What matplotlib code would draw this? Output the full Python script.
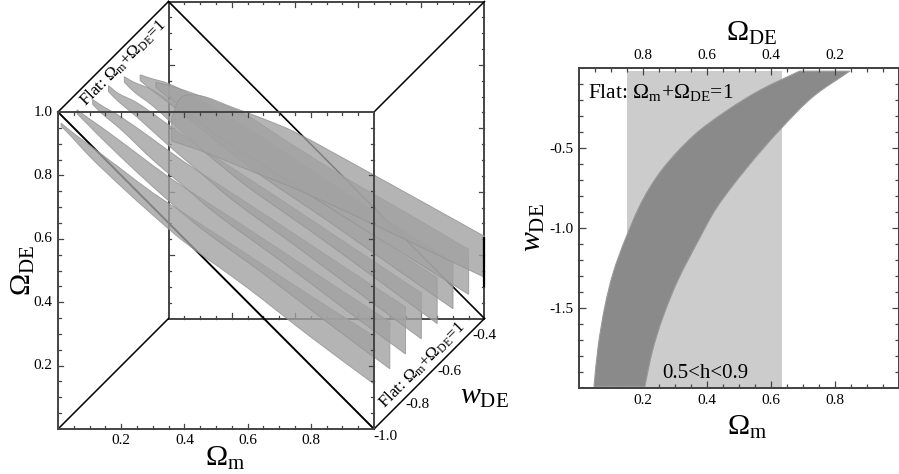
import numpy as np
import matplotlib
matplotlib.use('Agg')
import matplotlib.pyplot as plt
from matplotlib.path import Path
from matplotlib.patches import PathPatch

plt.rcParams['font.family'] = ['Liberation Serif', 'DejaVu Serif']
plt.rcParams['mathtext.fontset'] = 'custom'
plt.rcParams['mathtext.rm'] = 'Liberation Serif'
plt.rcParams['mathtext.it'] = 'Liberation Serif:italic'
plt.rcParams['mathtext.bf'] = 'Liberation Serif:bold'

# Left panel: one (Omega_m, Omega_DE) band per value of w_DE
w_sheets = [-1.0, -0.914, -0.829, -0.743, -0.657, -0.571, -0.486, -0.4]
om_grid = [0.01, 0.04, 0.1, 0.2, 0.3, 0.4, 0.6, 0.8, 1.0]
de_upper = [
    [0.965, 0.94, 0.895, 0.82, 0.745, 0.68, 0.55, 0.42, 0.293],
    [0.957, 0.935, 0.893, 0.819, 0.745, 0.68, 0.55, 0.418, 0.288],
    [0.94, 0.92, 0.885, 0.815, 0.743, 0.678, 0.548, 0.416, 0.286],
    [0.934, 0.91, 0.88, 0.81, 0.74, 0.675, 0.545, 0.412, 0.28],
    [0.912, 0.895, 0.87, 0.805, 0.735, 0.672, 0.54, 0.408, 0.278],
    [0.868, 0.858, 0.84, 0.79, 0.73, 0.668, 0.535, 0.405, 0.276],
    [0.795, 0.788, 0.77, 0.733, 0.69, 0.625, 0.50, 0.385, 0.268],
    [0.63, 0.697, 0.703, 0.667, 0.63, 0.588, 0.48, 0.37, 0.259],
]
de_lower = [
    [0.955, 0.925, 0.86, 0.765, 0.675, 0.59, 0.445, 0.29, 0.142],
    [0.945, 0.915, 0.855, 0.76, 0.67, 0.585, 0.44, 0.288, 0.14],
    [0.925, 0.895, 0.845, 0.75, 0.665, 0.58, 0.435, 0.285, 0.137],
    [0.915, 0.885, 0.835, 0.745, 0.66, 0.575, 0.43, 0.282, 0.135],
    [0.895, 0.865, 0.82, 0.73, 0.645, 0.565, 0.425, 0.28, 0.133],
    [0.85, 0.825, 0.78, 0.70, 0.62, 0.545, 0.41, 0.27, 0.13],
    [0.78, 0.755, 0.71, 0.63, 0.565, 0.50, 0.375, 0.25, 0.126],
    [0.56, 0.55, 0.53, 0.49, 0.45, 0.41, 0.32, 0.225, 0.13],
]
box_ticks = [0.2, 0.4, 0.6, 0.8]
w_ticks = [-1.0, -0.8, -0.6, -0.4]

# Right panel: allowed region in the flat case
w_left = [-0.02, -0.14, -0.27, -0.42, -0.63, -0.83, -1.07, -1.28, -1.49, -1.74, -1.99]
om_left = [0.69, 0.565, 0.46, 0.36, 0.262, 0.198, 0.145, 0.107, 0.081, 0.06, 0.047]
w_right = [-0.02, -0.18, -0.375, -0.62, -0.87, -1.07, -1.325, -1.556, -1.76, -1.99]
om_right = [0.847, 0.732, 0.634, 0.527, 0.432, 0.376, 0.31, 0.263, 0.231, 0.206]
om_band = [0.15, 0.634]
w_band = [-2.0, -0.02]

W, H = 899.0, 474.0
frame = '#444444'
fs_tick = 11
fs_label = 21.5
fig = plt.figure(figsize=(8.99, 4.74), dpi=100)

def smooth(x, y, ratio=1.0):
    # bezier segments through the read points, handles scaled by chord length
    p = np.column_stack([x, y * ratio])
    d = np.diff(p, axis=0)
    chord = np.hypot(d[:, 0], d[:, 1])
    t = np.zeros_like(p)
    t[1:-1] = p[2:] - p[:-2]
    t[0], t[-1] = d[0], d[-1]
    t = t / np.hypot(t[:, 0], t[:, 1])[:, None]
    verts, codes = [], []
    for i in range(len(p) - 1):
        verts += [p[i] + t[i] * chord[i] / 3, p[i + 1] - t[i + 1] * chord[i] / 3, p[i + 1]]
        codes += [Path.CURVE4] * 3
    verts = [v / [1, ratio] for v in verts]
    return p[0] / [1, ratio], verts, codes

def band_path(x1, y1, x2, y2, ratio=1.0):
    # closed outline: first edge forward, second edge back
    start, v1, c1 = smooth(x1, y1, ratio)
    mid, v2, c2 = smooth(x2[::-1], y2[::-1], ratio)
    verts = [start] + v1 + [mid] + v2 + [start]
    codes = [Path.MOVETO] + c1 + [Path.LINETO] + c2 + [Path.CLOSEPOLY]
    return Path(verts, codes)

# left panel, axes box = the front face of the cube
ax = fig.add_axes([58 / W, (H - 429) / H, 316 / W, 317 / H])
ax.set_xlim(0, 1)
ax.set_ylim(0, 1)
ax.axis('off')

def proj(om, de, w):
    # oblique projection of the w_DE axis
    dw = (np.asarray(w, dtype=float) + 1.0) / 0.6
    return np.asarray(om, dtype=float) + dw * 110.5 / 316, np.asarray(de, dtype=float) + dw * 110.5 / 317

def line3d(om, de, w, **kw):
    x, y = proj(om, de, w)
    ax.plot(x, y, clip_on=False, solid_capstyle='projecting', **kw)

def square(w, z):
    line3d([0, 1, 1, 0, 0], [0, 0, 1, 1, 0], [w] * 5, color=frame, lw=1.4, zorder=z)
    for v in np.arange(0.05, 1.0, 0.05):
        ln = 0.016 if round(v * 100) % 20 == 0 else 0.009
        line3d([v, v], [0, ln], [w, w], color=frame, lw=0.9, zorder=z)
        line3d([v, v], [1 - ln, 1], [w, w], color=frame, lw=0.9, zorder=z)
        line3d([0, ln], [v, v], [w, w], color=frame, lw=0.9, zorder=z)
        line3d([1 - ln, 1], [v, v], [w, w], color=frame, lw=0.9, zorder=z)

square(-0.4, 1)
line3d([0, 1], [1, 0], [-0.4, -0.4], color='black', lw=1.2, zorder=1)
line3d([0, 1], [1, 0], [-1, -1], color='black', lw=1.4, zorder=1)
for om0, de0 in [(0, 1), (1, 1), (0, 0), (1, 0)]:
    line3d([om0, om0], [de0, de0], [-1, -0.4], color='black', lw=1.1, zorder=1)

for w, up, lo in zip(w_sheets, de_upper, de_lower):
    xu, yu = proj(om_grid, up, w)
    xl, yl = proj(om_grid, lo, w)
    ax.add_patch(PathPatch(band_path(xu, yu, xl, yl), facecolor='#a2a2a2', edgecolor='#949494',
                           alpha=0.8, lw=0.7, clip_on=False, zorder=2))

square(-1.0, 3)
# the dark stretch of the rear edge
line3d([1, 1], [0.104, 0.255], [-0.4, -0.4], color='black', lw=1.6, zorder=4)

for v in box_ticks:
    ax.text(v, -0.035, f'{v:.1f}', ha='center', va='center', fontsize=fs_tick)
    ax.text(-0.018, v, f'{v:.1f}', ha='right', va='center', fontsize=fs_tick)
ax.text(-0.018, 1.0, '1.0', ha='right', va='center', fontsize=fs_tick)

w_off = [(11, 8), (7, 12), (2, 16), (0, 17)]
for w, off in zip(w_ticks, w_off):
    x, y = proj(1, 0, w)
    ax.text(x + off[0] / 316, y - off[1] / 317, f'{w:.1f}', ha='center', va='center', fontsize=fs_tick)

flat = r'Flat: $\Omega_{\mathrm{m}}$+$\Omega_{\mathrm{DE}}$=1'
ax.text(0.206, 1.155, flat, rotation=45, ha='center', va='center', fontsize=12.2, rotation_mode='anchor')
ax.text(1.152, 0.202, flat, rotation=45, ha='center', va='center', fontsize=12.2, rotation_mode='anchor')

ax.text(0.53, -0.093, r'$\Omega_{\mathrm{m}}$', ha='center', va='center', fontsize=fs_label)
ax.text(-0.11, 0.5, r'$\Omega_{\mathrm{DE}}$', ha='center', va='center', rotation=90, fontsize=fs_label)
ax.text(1.35, 0.10, r'$\mathit{w}_{\mathrm{DE}}$', ha='center', va='center', fontsize=fs_label)

# right panel
ax2 = fig.add_axes([579 / W, (H - 388) / H, 319.5 / W, 320 / H])
ax2.fill_betweenx(w_band, om_band[0], om_band[1], color='#cccccc', lw=0, zorder=1)
ax2.add_patch(PathPatch(band_path(np.array(om_left), np.array(w_left), np.array(om_right), np.array(w_right), 0.5),
                        facecolor='#8a8a8a', edgecolor='#999999', lw=0.8, zorder=2))
ax2.set_xlim(0, 1)
ax2.set_ylim(-2, 0)
ax2.set_xticks(box_ticks)
ax2.set_xticks(np.arange(0.05, 1.0, 0.05), minor=True)
ax2.set_yticks([-1.5, -1.0, -0.5])
ax2.set_yticklabels(['-1.5', '-1.0', '-0.5'])
ax2.set_yticks(np.arange(-1.9, 0, 0.1), minor=True)
ax2.tick_params(which='major', direction='in', length=5, width=0.9, color=frame, top=False, right=True, labelsize=fs_tick, pad=4)
ax2.tick_params(which='minor', direction='in', length=3, width=0.9, color=frame, top=False, right=True)
ax2.set_xlabel(r'$\Omega_{\mathrm{m}}$', fontsize=fs_label)
ax2.xaxis.set_label_coords(0.525, -0.08)
ax2.set_ylabel(r'$\mathit{w}_{\mathrm{DE}}$', fontsize=fs_label)
ax2.yaxis.set_label_coords(-0.1, 0.5)

top = ax2.twiny()
top.set_xlim(0, 1)
top.set_xticks([1 - v for v in box_ticks])
top.set_xticklabels([f'{v:.1f}' for v in box_ticks])
top.set_xticks(np.arange(0.05, 1.0, 0.05), minor=True)
top.tick_params(which='major', direction='in', length=5, width=0.9, color=frame, labelsize=fs_tick, pad=4)
top.tick_params(which='minor', direction='in', length=3, width=0.9, color=frame)
top.set_xlabel(r'$\Omega_{\mathrm{DE}}$', fontsize=fs_label)
top.xaxis.set_label_coords(0.54, 1.085)
for a in (ax2, top):
    for s in a.spines.values():
        s.set_color(frame)
        s.set_linewidth(1.4)

ax2.text(0.028, 0.905, 'Flat: ' + r'$\Omega_{\mathrm{m}}$+$\Omega_{\mathrm{DE}}$=1', transform=ax2.transAxes, fontsize=15.5, va='baseline', zorder=5)
ax2.text(0.26, 0.03, '0.5<h<0.9', transform=ax2.transAxes, fontsize=15, va='baseline', zorder=5)

fig.savefig('out.png', dpi=100)
